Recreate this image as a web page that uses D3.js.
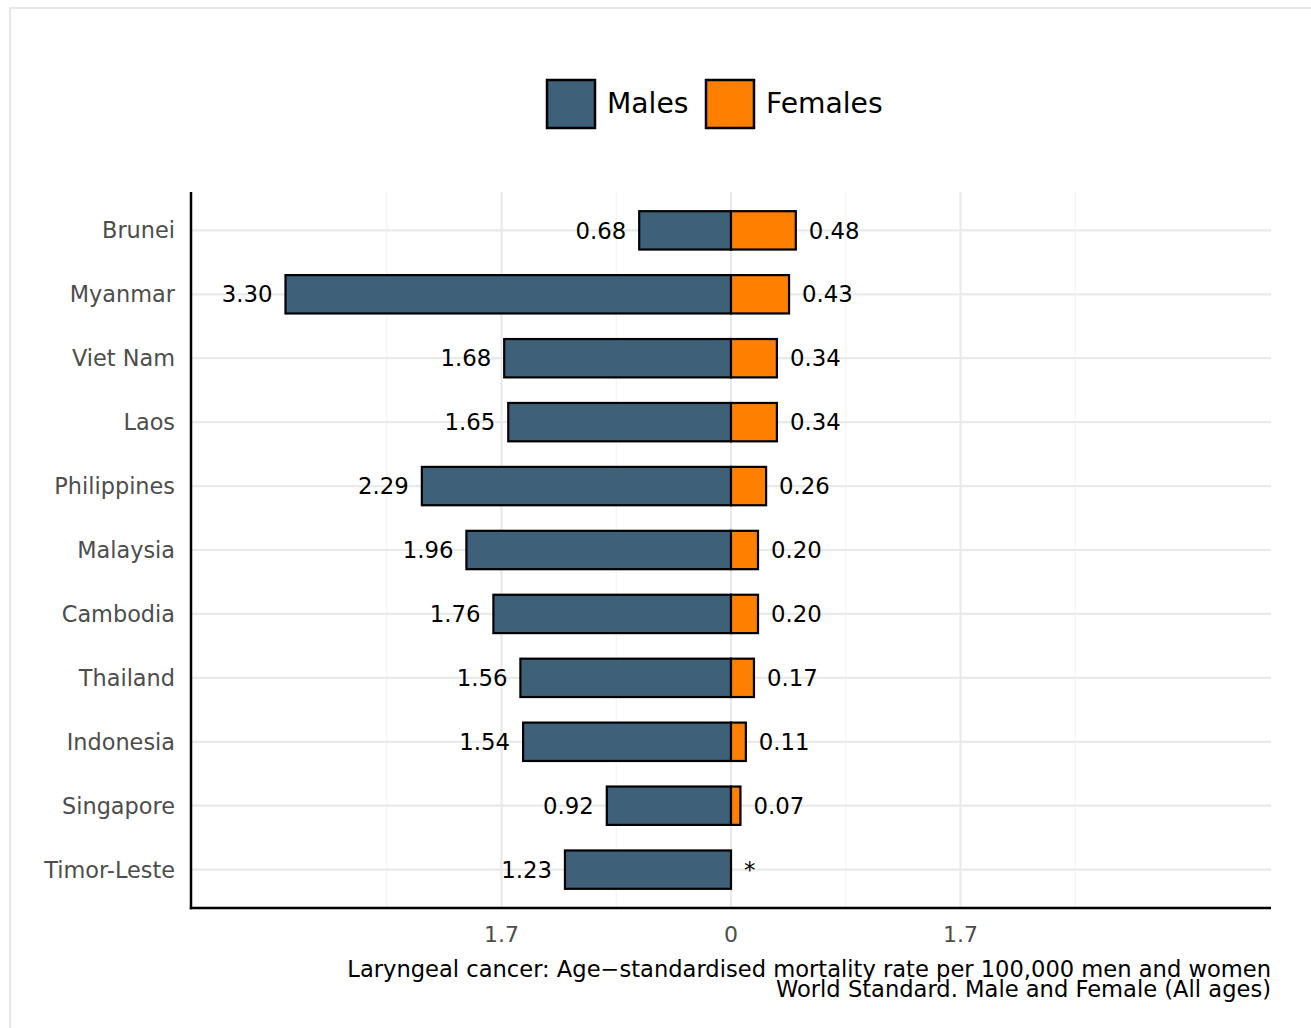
<!DOCTYPE html>
<html><head><meta charset="utf-8">
<script src="https://cdn.jsdelivr.net/npm/d3@7"></script>
<style>body{margin:0;background:#fff}svg{display:block}</style>
</head><body>
<svg id="c" width="1311" height="1028"></svg>
<script>
const countries = ["Brunei","Myanmar","Viet Nam","Laos","Philippines","Malaysia","Cambodia","Thailand","Indonesia","Singapore","Timor-Leste"];
const males   = [0.68, 3.30, 1.68, 1.65, 2.29, 1.96, 1.76, 1.56, 1.54, 0.92, 1.23];
const females = [0.48, 0.43, 0.34, 0.34, 0.26, 0.20, 0.20, 0.17, 0.11, 0.07, null];
const tickValues = [-1.7, 0, 1.7];
const tickLabels = ["1.7", "0", "1.7"];
const minorTicks = [-2.55, -0.85, 0.85, 2.55];
const legendItems = ["Males", "Females"];
const captionLines = ["Laryngeal cancer: Age\u2212standardised mortality rate per 100,000 men and women", "World Standard. Male and Female (All ages)"];

const colors = {Males: "#3e6079", Females: "#ff7f00"};
const svg = d3.select("#c");
const font = "DejaVu Sans, sans-serif";

const L = 191, R = 1271, T = 192, B = 908;
const x = d3.scaleLinear().domain([-4, 4]).range([L, R]);
const y = d3.scalePoint().domain(countries).range([T, B]).padding(0.6);
const step = y.step();
const bh = step * 0.6;

// outer panel border
svg.append("rect").attr("x", 10).attr("y", 8).attr("width", 1340).attr("height", 1100)
  .attr("fill", "none").attr("stroke", "#e8e8e8").attr("stroke-width", 2);

const g = svg.append("g");
g.selectAll(".minor").data(minorTicks).join("line")
  .attr("x1", d => x(d)).attr("x2", d => x(d)).attr("y1", T).attr("y2", B)
  .attr("stroke", "#f4f4f4").attr("stroke-width", 1.2);
g.selectAll(".major").data(tickValues).join("line")
  .attr("x1", d => x(d)).attr("x2", d => x(d)).attr("y1", T).attr("y2", B)
  .attr("stroke", "#e9e9e9").attr("stroke-width", 2.2);
g.selectAll(".hg").data(countries).join("line")
  .attr("x1", L).attr("x2", R).attr("y1", d => y(d)).attr("y2", d => y(d))
  .attr("stroke", "#e9e9e9").attr("stroke-width", 2.2);

const rows = countries.map((c, i) => ({c, m: males[i], f: females[i]}));
g.selectAll(".mb").data(rows).join("rect")
  .attr("x", d => x(-d.m)).attr("width", d => x(0) - x(-d.m))
  .attr("y", d => y(d.c) - bh / 2).attr("height", bh)
  .attr("fill", colors.Males).attr("stroke", "#000").attr("stroke-width", 2.2);
g.selectAll(".fb").data(rows.filter(d => d.f != null)).join("rect")
  .attr("x", x(0)).attr("width", d => x(d.f) - x(0))
  .attr("y", d => y(d.c) - bh / 2).attr("height", bh)
  .attr("fill", colors.Females).attr("stroke", "#000").attr("stroke-width", 2.2);

g.selectAll(".ml").data(rows).join("text")
  .attr("x", d => x(-d.m) - 13).attr("y", d => y(d.c)).attr("dy", "0.36em")
  .attr("text-anchor", "end").attr("font-family", font).attr("font-size", 22.8).attr("fill", "#000")
  .text(d => d.m.toFixed(2));
g.selectAll(".fl").data(rows).join("text")
  .attr("x", d => x(d.f == null ? 0 : d.f) + 13).attr("y", d => y(d.c)).attr("dy", "0.36em")
  .attr("text-anchor", "start").attr("font-family", font).attr("font-size", 22.8).attr("fill", "#000")
  .text(d => d.f == null ? "*" : d.f.toFixed(2));

g.selectAll(".yl").data(countries).join("text")
  .attr("x", L - 16).attr("y", d => y(d)).attr("dy", "0.36em")
  .attr("text-anchor", "end").attr("font-family", font).attr("font-size", 22.4).attr("fill", "#4d4d4d")
  .text(d => d);

svg.append("line").attr("x1", L).attr("x2", L).attr("y1", T).attr("y2", B + 1.2)
  .attr("stroke", "#000").attr("stroke-width", 2.5);
svg.append("line").attr("x1", L - 1.2).attr("x2", R).attr("y1", B).attr("y2", B)
  .attr("stroke", "#000").attr("stroke-width", 2.5);

svg.selectAll(".xt").data(tickValues).join("text")
  .attr("x", d => x(d)).attr("y", 942).attr("text-anchor", "middle")
  .attr("font-family", font).attr("font-size", 22).attr("fill", "#4d4d4d")
  .text((d, i) => tickLabels[i]);

svg.selectAll(".cap").data(captionLines).join("text")
  .attr("x", R).attr("y", (d, i) => 977 + i * 20).attr("text-anchor", "end")
  .attr("font-family", font).attr("font-size", 22.6).attr("fill", "#000")
  .text(d => d);

const legX = [546, 705];
const lg = svg.selectAll(".lg").data(legendItems).join("g")
  .attr("transform", (d, i) => `translate(${legX[i]},79)`);
lg.append("rect").attr("x", 1).attr("y", 1).attr("width", 48).attr("height", 48)
  .attr("fill", d => colors[d]).attr("stroke", "#000").attr("stroke-width", 2.5);
lg.append("text").attr("x", 61).attr("y", 24).attr("dy", "0.36em")
  .attr("font-family", font).attr("font-size", 28.2).attr("fill", "#000").text(d => d);
</script>
</body></html>
